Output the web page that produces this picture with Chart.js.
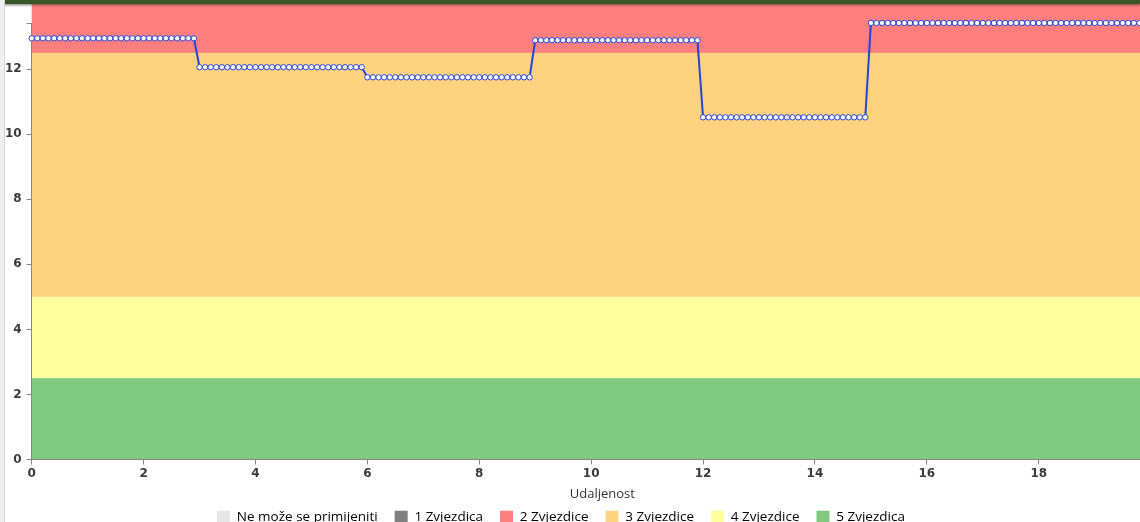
<!DOCTYPE html>
<html>
<head>
<meta charset="utf-8">
<title>Udaljenost</title>
<script src="https://cdn.jsdelivr.net/npm/chart.js@4.4.1/dist/chart.umd.min.js"></script>
<style>
    html, body { margin: 0; padding: 0; background: #fff; overflow: hidden; }
    #topBar { position: absolute; left: 0; top: 0; width: 100%; height: 4px; background: #3b5626; box-shadow: 0 1px 3px rgba(0,0,0,0.55); z-index: 2; }
    #sidePanel { position: absolute; left: 0; top: 0; width: 4px; height: 100%; background: #efefef; border-right: 1px solid #d6d6d6; z-index: 2; }
    #chartBox { position: absolute; left: 0; top: 0; width: 1178px; height: 547px; }
</style>
</head>
<body>
<div id="topBar"></div>
<div id="sidePanel"></div>
<div id="chartBox"><canvas id="ratingChart" width="1178" height="547"></canvas></div>
<script>
// step levels, one dot every 0.1 km
const segmentStart = [0, 3, 6, 9, 12, 15];
const segmentEnd = [2.9, 5.9, 8.9, 11.9, 14.9, 20.4];
const segmentLevel = [12.95, 12.06, 11.75, 12.89, 10.52, 13.42];
const sampleStep = 0.1;

// rating bands
const bandLabels = ['Ne može se primijeniti', '1 Zvjezdica', '2 Zvjezdice', '3 Zvjezdice', '4 Zvjezdice', '5 Zvjezdica'];
const bandColors = ['#e6e6e6', '#808080', '#ff7f7f', '#ffd27f', '#ffff9f', '#7fca7f'];
const bandFrom = [null, null, 12.5, 5, 2.5, 0];
const bandTo = [null, null, 14, 12.5, 5, 2.5];

const xMax = 20.4;
const yMax = 13.42;
const tickStep = 2;

const points = [];
segmentStart.forEach((start, i) => {
    const n = Math.round((segmentEnd[i] - start) / sampleStep);
    for (let k = 0; k <= n; k++) {
        points.push({ x: +(start + k * sampleStep).toFixed(1), y: segmentLevel[i] });
    }
});

const bandPlugin = {
    id: 'ratingBands',
    beforeDraw(chart) {
        const { ctx, chartArea, scales: { y } } = chart;
        ctx.save();
        bandLabels.forEach((label, i) => {
            if (bandFrom[i] === null) return;
            const top = y.getPixelForValue(bandTo[i]);
            const bottom = y.getPixelForValue(bandFrom[i]);
            ctx.fillStyle = bandColors[i];
            ctx.fillRect(chartArea.left, top, chartArea.right - chartArea.left, bottom - top);
        });
        ctx.restore();
    }
};

// legend sits left of the canvas centre and close under the axis title in the original page
const legendShift = {
    id: 'legendShift',
    afterLayout(chart) {
        const lg = chart.legend;
        lg.left -= 28;
        lg.right -= 28;
        lg.top -= 13;
        lg.bottom -= 13;
    }
};

const tickFont = { family: 'DejaVu Sans', size: 12, weight: 'bold' };
const evenLabel = v => (Math.abs(v % tickStep) < 1e-9 ? v : '');

new Chart(document.getElementById('ratingChart'), {
    type: 'line',
    data: {
        datasets: [{
            label: 'Ocjena',
            data: points,
            borderColor: '#2442dc',
            borderWidth: 2,
            pointRadius: 2.7,
            pointBorderWidth: 1,
            pointBackgroundColor: '#ffffff',
            pointBorderColor: '#2442dc',
            tension: 0,
            clip: false
        }]
    },
    options: {
        responsive: false,
        animation: false,
        layout: { padding: { left: 0, top: 23, right: 0, bottom: 0 } },
        scales: {
            x: {
                type: 'linear',
                min: 0,
                max: xMax,
                grid: { display: true, drawOnChartArea: false, drawTicks: true, tickLength: 5, color: '#888' },
                border: { display: true, color: '#888' },
                ticks: { stepSize: tickStep, autoSkip: false, maxRotation: 0, padding: 2, color: '#3a3a3a', font: tickFont, callback: evenLabel },
                title: { display: true, text: 'Udaljenost', color: '#333', font: { family: 'Open Sans', size: 13 }, padding: { top: 4, bottom: 4 } }
            },
            y: {
                min: 0,
                max: yMax,
                grid: { display: true, drawOnChartArea: false, drawTicks: true, tickLength: 5, color: '#888' },
                border: { display: true, color: '#888' },
                ticks: { stepSize: tickStep, autoSkip: false, padding: 5, color: '#3a3a3a', font: tickFont, callback: evenLabel }
            }
        },
        plugins: {
            tooltip: { enabled: false },
            legend: {
                position: 'bottom',
                onClick: () => {},
                labels: {
                    boxWidth: 13,
                    boxHeight: 13,
                    padding: 17,
                    color: '#333',
                    font: { family: 'Open Sans', size: 13.5 },
                    generateLabels: () => bandLabels.map((text, i) => ({
                        text: text,
                        fillStyle: bandColors[i],
                        strokeStyle: bandColors[i],
                        lineWidth: 0,
                        hidden: false
                    }))
                }
            }
        }
    },
    plugins: [bandPlugin, legendShift]
});
</script>
</body>
</html>
